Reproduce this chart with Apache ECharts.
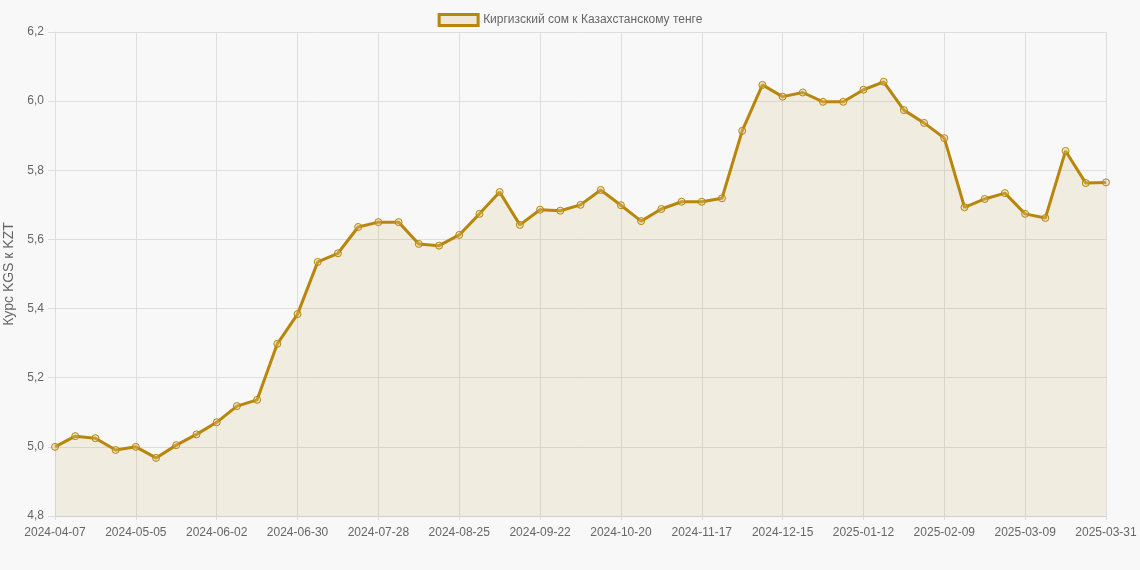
<!DOCTYPE html>
<html>
<head>
<meta charset="utf-8">
<script src="https://cdn.jsdelivr.net/npm/echarts@6/dist/echarts.min.js"></script>
<style>
  html, body { margin: 0; padding: 0; background: #f8f8f8; }
  #chart { width: 1140px; height: 570px; }
</style>
</head>
<body>
<div id="chart"></div>
<script>
// недели (ось X)
var dates = [
  '2024-04-07','2024-04-14','2024-04-21','2024-04-28','2024-05-05','2024-05-12','2024-05-19','2024-05-26',
  '2024-06-02','2024-06-09','2024-06-16','2024-06-23','2024-06-30','2024-07-07','2024-07-14','2024-07-21',
  '2024-07-28','2024-08-04','2024-08-11','2024-08-18','2024-08-25','2024-09-01','2024-09-08','2024-09-15',
  '2024-09-22','2024-09-29','2024-10-06','2024-10-13','2024-10-20','2024-10-27','2024-11-03','2024-11-10',
  '2024-11-17','2024-11-24','2024-12-01','2024-12-08','2024-12-15','2024-12-22','2024-12-29','2025-01-05',
  '2025-01-12','2025-01-19','2025-01-26','2025-02-02','2025-02-09','2025-02-16','2025-02-23','2025-03-02',
  '2025-03-09','2025-03-16','2025-03-23','2025-03-30','2025-03-31'
];
// курс KGS к KZT
var rates = [
  5.00, 5.031, 5.025, 4.991, 5.00, 4.968, 5.005, 5.036,
  5.071, 5.118, 5.136, 5.298, 5.384, 5.535, 5.560, 5.636,
  5.650, 5.650, 5.587, 5.582, 5.613, 5.674, 5.737, 5.642,
  5.686, 5.683, 5.700, 5.743, 5.699, 5.653, 5.688, 5.709,
  5.709, 5.719, 5.914, 6.047, 6.013, 6.025, 5.998, 5.998,
  6.033, 6.056, 5.974, 5.937, 5.893, 5.693, 5.717, 5.734,
  5.674, 5.662, 5.856, 5.763, 5.765
];
var seriesName = 'Киргизский сом к Казахстанскому тенге';
var yName = 'Курс KGS к KZT';

var gold = '#b8860b';
var gridColor = '#dedede';
var font = "'Liberation Sans', Arial, sans-serif";

var myChart = echarts.init(document.getElementById('chart'));
myChart.setOption({
  backgroundColor: '#f8f8f8',
  animation: false,
  textStyle: { fontFamily: font },
  legend: {
    top: 8,
    left: 'center',
    icon: 'rect',
    itemWidth: 39,
    itemHeight: 11,
    itemGap: 10,
    itemStyle: {
      color: '#efe8d6',
      borderColor: gold,
      borderWidth: 3
    },
    textStyle: { color: '#666', fontSize: 12, fontFamily: font },
    data: [seriesName]
  },
  grid: {
    left: 55,
    right: 34,
    top: 32,
    bottom: 54,
    containLabel: false,
    outerBoundsMode: 'none'
  },
  xAxis: {
    type: 'category',
    boundaryGap: false,
    data: dates,
    axisLine: { lineStyle: { color: '#cfcfcf' } },
    axisTick: { show: true, interval: 3, length: 4, lineStyle: { color: gridColor } },
    axisLabel: { interval: 3, color: '#666', fontSize: 12, margin: 11, fontFamily: font },
    splitLine: { show: true, interval: 3, lineStyle: { color: gridColor } }
  },
  yAxis: {
    type: 'value',
    min: 4.8,
    max: 6.2,
    interval: 0.2,
    name: yName,
    nameLocation: 'middle',
    nameGap: 29,
    nameTextStyle: { color: '#666', fontSize: 14, fontFamily: font },
    axisLine: { show: true, lineStyle: { color: gridColor } },
    axisTick: { show: true, length: 7, lineStyle: { color: gridColor } },
    axisLabel: {
      color: '#666',
      fontSize: 12,
      margin: 11,
      fontFamily: font,
      formatter: function (v) { return v.toFixed(1).replace('.', ','); }
    },
    splitLine: { lineStyle: { color: gridColor } }
  },
  series: [
    {
      name: seriesName,
      type: 'line',
      data: rates,
      symbol: 'circle',
      symbolSize: 7,
      showAllSymbol: true,
      lineStyle: { color: gold, width: 3 },
      itemStyle: {
        color: 'rgba(220,196,130,0.35)',
        borderColor: gold,
        borderWidth: 1
      },
      areaStyle: { color: 'rgba(184,134,11,0.14)' }
    }
  ]
});
</script>
</body>
</html>
